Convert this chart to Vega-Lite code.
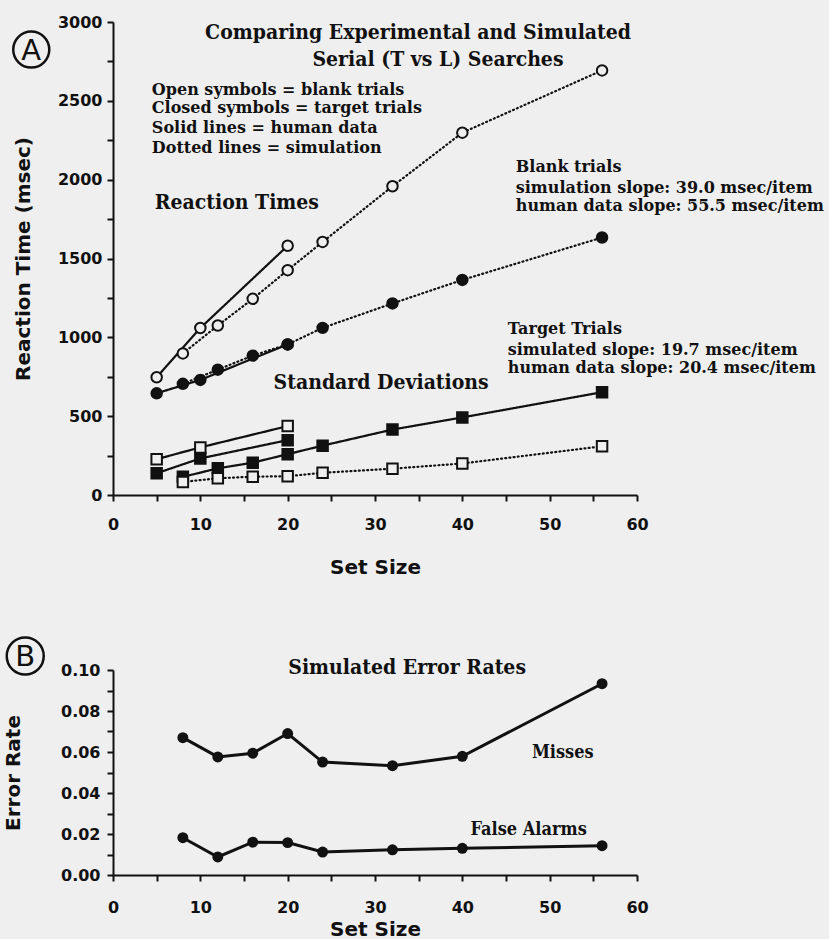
{
  "$schema": "https://vega.github.io/schema/vega-lite/v6.json",
  "background": "#efefef",
  "padding": {"left": 1, "top": 14, "right": 5, "bottom": 0},
  "bounds": "flush",
  "spacing": 175,
  "config": {
    "view": {"stroke": null},
    "axis": {"grid": false, "domainColor": "#111", "domainWidth": 2, "tickColor": "#111", "tickWidth": 2, "tickSize": 6,
      "labelFont": "DejaVu Sans", "labelFontWeight": "bold", "labelFontSize": 16, "labelColor": "#111",
      "titleFont": "DejaVu Sans", "titleFontWeight": "bold", "titleFontSize": 20, "titleColor": "#111",
      "labelOverlap": false, "labelFlush": false},
    "text": {"font": "DejaVu Serif Condensed, DejaVu Serif", "fontWeight": "bold", "color": "#111"}
  },
  "datasets": {
    "rt": [
      {"series": "Blank RT human", "setsize": 5, "value": 747},
      {"series": "Blank RT human", "setsize": 10, "value": 1059},
      {"series": "Blank RT human", "setsize": 20, "value": 1581},
      {"series": "Blank RT sim", "setsize": 8, "value": 898},
      {"series": "Blank RT sim", "setsize": 12, "value": 1075},
      {"series": "Blank RT sim", "setsize": 16, "value": 1244},
      {"series": "Blank RT sim", "setsize": 20, "value": 1426},
      {"series": "Blank RT sim", "setsize": 24, "value": 1605},
      {"series": "Blank RT sim", "setsize": 32, "value": 1958},
      {"series": "Blank RT sim", "setsize": 40, "value": 2298},
      {"series": "Blank RT sim", "setsize": 56, "value": 2693},
      {"series": "Target RT human", "setsize": 5, "value": 645},
      {"series": "Target RT human", "setsize": 10, "value": 730},
      {"series": "Target RT human", "setsize": 20, "value": 955},
      {"series": "Target RT sim", "setsize": 8, "value": 705},
      {"series": "Target RT sim", "setsize": 12, "value": 795},
      {"series": "Target RT sim", "setsize": 16, "value": 884},
      {"series": "Target RT sim", "setsize": 20, "value": 955},
      {"series": "Target RT sim", "setsize": 24, "value": 1060},
      {"series": "Target RT sim", "setsize": 32, "value": 1215},
      {"series": "Target RT sim", "setsize": 40, "value": 1364},
      {"series": "Target RT sim", "setsize": 56, "value": 1633},
      {"series": "Blank SD human", "setsize": 5, "value": 227},
      {"series": "Blank SD human", "setsize": 10, "value": 302},
      {"series": "Blank SD human", "setsize": 20, "value": 437},
      {"series": "Target SD human", "setsize": 5, "value": 138},
      {"series": "Target SD human", "setsize": 10, "value": 232},
      {"series": "Target SD human", "setsize": 20, "value": 348},
      {"series": "Target SD sim", "setsize": 8, "value": 115},
      {"series": "Target SD sim", "setsize": 12, "value": 169},
      {"series": "Target SD sim", "setsize": 16, "value": 205},
      {"series": "Target SD sim", "setsize": 20, "value": 259},
      {"series": "Target SD sim", "setsize": 24, "value": 313},
      {"series": "Target SD sim", "setsize": 32, "value": 415},
      {"series": "Target SD sim", "setsize": 40, "value": 492},
      {"series": "Target SD sim", "setsize": 56, "value": 652},
      {"series": "Blank SD sim", "setsize": 8, "value": 83},
      {"series": "Blank SD sim", "setsize": 12, "value": 106},
      {"series": "Blank SD sim", "setsize": 16, "value": 116},
      {"series": "Blank SD sim", "setsize": 20, "value": 119},
      {"series": "Blank SD sim", "setsize": 24, "value": 141},
      {"series": "Blank SD sim", "setsize": 32, "value": 167},
      {"series": "Blank SD sim", "setsize": 40, "value": 200},
      {"series": "Blank SD sim", "setsize": 56, "value": 309}
    ],
    "err": [
      {"series": "Misses", "setsize": 8, "rate": 0.067},
      {"series": "Misses", "setsize": 12, "rate": 0.0576},
      {"series": "Misses", "setsize": 16, "rate": 0.0594},
      {"series": "Misses", "setsize": 20, "rate": 0.069},
      {"series": "Misses", "setsize": 24, "rate": 0.0551},
      {"series": "Misses", "setsize": 32, "rate": 0.0533},
      {"series": "Misses", "setsize": 40, "rate": 0.0579},
      {"series": "Misses", "setsize": 56, "rate": 0.0933},
      {"series": "False Alarms", "setsize": 8, "rate": 0.0182},
      {"series": "False Alarms", "setsize": 12, "rate": 0.0088},
      {"series": "False Alarms", "setsize": 16, "rate": 0.016},
      {"series": "False Alarms", "setsize": 20, "rate": 0.0158},
      {"series": "False Alarms", "setsize": 24, "rate": 0.0112},
      {"series": "False Alarms", "setsize": 32, "rate": 0.0123},
      {"series": "False Alarms", "setsize": 40, "rate": 0.013},
      {"series": "False Alarms", "setsize": 56, "rate": 0.0143}
    ],
    "titleA": [
      {"text": "Comparing Experimental and Simulated", "x": 34.93, "y": 2930},
      {"text": "Serial (T vs L) Searches", "x": 37.21, "y": 2759}
    ],
    "notesA": [
      {"text": "Open symbols = blank trials", "x": 4.45, "y": 2569},
      {"text": "Closed symbols = target trials", "x": 4.45, "y": 2454},
      {"text": "Solid lines = human data", "x": 4.45, "y": 2328},
      {"text": "Dotted lines = simulation", "x": 4.45, "y": 2201},
      {"text": "Blank trials", "x": 46.12, "y": 2080},
      {"text": "simulation slope: 39.0 msec/item", "x": 46.12, "y": 1947},
      {"text": "human data slope: 55.5 msec/item", "x": 46.12, "y": 1833},
      {"text": "Target Trials", "x": 45.2, "y": 1053},
      {"text": "simulated slope: 19.7 msec/item", "x": 45.2, "y": 920},
      {"text": "human data slope: 20.4 msec/item", "x": 45.2, "y": 805}
    ],
    "headsA": [
      {"text": "Reaction Times", "x": 4.79, "y": 1852},
      {"text": "Standard Deviations", "x": 18.38, "y": 710}
    ],
    "tagA": [{"text": "A", "x": -9.36, "y": 2825}],
    "titleB": [{"text": "Simulated Error Rates", "x": 33.68, "y": 0.101}],
    "notesB": [
      {"text": "Misses", "x": 51.5, "y": 0.0595},
      {"text": "False Alarms", "x": 47.6, "y": 0.022}
    ],
    "tagB": [{"text": "B", "x": -10.05, "y": 0.1068}]
  },
  "vconcat": [
    {
      "width": 524,
      "height": 473,
      "encoding": {
        "x": {"field": "x", "type": "quantitative", "scale": {"domain": [0, 60], "nice": false, "zero": false},
          "axis": {"title": "Set Size", "values": [0, 5, 10, 15, 20, 25, 30, 35, 40, 45, 50, 55, 60], "format": "d",
            "labelExpr": "datum.value % 10 === 0 ? datum.label : ''", "labelPadding": 15, "titlePadding": 25}},
        "y": {"field": "y", "type": "quantitative", "scale": {"domain": [0, 3000], "nice": false, "zero": false},
          "axis": {"title": "Reaction Time (msec)", "values": [0, 250, 500, 750, 1000, 1250, 1500, 1750, 2000, 2250, 2500, 2750, 3000], "format": "d",
            "labelExpr": "datum.value % 500 === 0 ? datum.label : ''", "labelPadding": 5, "titlePadding": 24}}
      },
      "layer": [
        {
          "data": {"name": "rt"},
          "mark": {"type": "line", "color": "#111", "strokeWidth": 2.2, "strokeCap": "round"},
          "encoding": {
            "x": {"field": "setsize", "type": "quantitative"},
            "y": {"field": "value", "type": "quantitative"},
            "detail": {"field": "series"},
            "strokeDash": {"field": "series", "type": "nominal", "legend": null,
              "scale": {"domain": ["Blank RT human", "Blank RT sim", "Target RT human", "Target RT sim", "Blank SD human", "Target SD human", "Target SD sim", "Blank SD sim"],
                "range": [[1, 0], [1, 3.2], [1, 0], [1, 3.2], [1, 0], [1, 0], [1, 0], [1, 3.2]]}}
          }
        },
        {
          "data": {"name": "rt"},
          "mark": {"type": "point", "filled": true, "stroke": "#111", "strokeWidth": 2, "size": 110, "opacity": 1},
          "encoding": {
            "x": {"field": "setsize", "type": "quantitative"},
            "y": {"field": "value", "type": "quantitative"},
            "shape": {"field": "series", "type": "nominal", "legend": null,
              "scale": {"domain": ["Blank RT human", "Blank RT sim", "Target RT human", "Target RT sim", "Blank SD human", "Target SD human", "Target SD sim", "Blank SD sim"],
                "range": ["circle", "circle", "circle", "circle", "square", "square", "square", "square"]}},
            "fill": {"field": "series", "type": "nominal", "legend": null,
              "scale": {"domain": ["Blank RT human", "Blank RT sim", "Target RT human", "Target RT sim", "Blank SD human", "Target SD human", "Target SD sim", "Blank SD sim"],
                "range": ["#efefef", "#efefef", "#111111", "#111111", "#efefef", "#111111", "#111111", "#efefef"]}}
          }
        },
        {
          "data": {"name": "titleA"},
          "mark": {"type": "text", "align": "center", "baseline": "middle", "fontSize": 21},
          "encoding": {"text": {"field": "text"}}
        },
        {
          "data": {"name": "notesA"},
          "mark": {"type": "text", "align": "left", "baseline": "middle", "fontSize": 16, "font": "DejaVu Serif"},
          "encoding": {"text": {"field": "text"}}
        },
        {
          "data": {"name": "headsA"},
          "mark": {"type": "text", "align": "left", "baseline": "middle", "fontSize": 21},
          "encoding": {"text": {"field": "text"}}
        },
        {
          "data": {"name": "tagA"},
          "mark": {"type": "point", "shape": "circle", "filled": false, "stroke": "#111", "strokeWidth": 2.5, "size": 1300, "opacity": 1}
        },
        {
          "data": {"name": "tagA"},
          "mark": {"type": "text", "align": "center", "baseline": "middle", "font": "DejaVu Sans", "fontWeight": "normal", "fontSize": 29, "dy": 1},
          "encoding": {"text": {"field": "text"}}
        }
      ]
    },
    {
      "width": 524,
      "height": 205,
      "encoding": {
        "x": {"field": "x", "type": "quantitative", "scale": {"domain": [0, 60], "nice": false, "zero": false},
          "axis": {"title": "Set Size", "values": [0, 5, 10, 15, 20, 25, 30, 35, 40, 45, 50, 55, 60], "format": "d",
            "labelExpr": "datum.value % 10 === 0 ? datum.label : ''", "labelPadding": 18, "titlePadding": 4}},
        "y": {"field": "y", "type": "quantitative", "scale": {"domain": [0, 0.1], "nice": false, "zero": false},
          "axis": {"title": "Error Rate", "values": [0, 0.01, 0.02, 0.03, 0.04, 0.05, 0.06, 0.07, 0.08, 0.09, 0.1], "format": ".2f",
            "labelExpr": "round(datum.value * 100) % 2 === 0 ? datum.label : ''", "labelPadding": 7, "titlePadding": 37}}
      },
      "layer": [
        {
          "data": {"name": "err"},
          "mark": {"type": "line", "color": "#111", "strokeWidth": 3},
          "encoding": {
            "x": {"field": "setsize", "type": "quantitative"},
            "y": {"field": "rate", "type": "quantitative"},
            "detail": {"field": "series"}
          }
        },
        {
          "data": {"name": "err"},
          "mark": {"type": "point", "shape": "circle", "filled": true, "color": "#111", "size": 120, "opacity": 1},
          "encoding": {
            "x": {"field": "setsize", "type": "quantitative"},
            "y": {"field": "rate", "type": "quantitative"}
          }
        },
        {
          "data": {"name": "titleB"},
          "mark": {"type": "text", "align": "center", "baseline": "middle", "fontSize": 21},
          "encoding": {"text": {"field": "text"}}
        },
        {
          "data": {"name": "notesB"},
          "mark": {"type": "text", "align": "center", "baseline": "middle", "fontSize": 18},
          "encoding": {"text": {"field": "text"}}
        },
        {
          "data": {"name": "tagB"},
          "mark": {"type": "point", "shape": "circle", "filled": false, "stroke": "#111", "strokeWidth": 2.5, "size": 1370, "opacity": 1}
        },
        {
          "data": {"name": "tagB"},
          "mark": {"type": "text", "align": "center", "baseline": "middle", "font": "DejaVu Sans", "fontWeight": "normal", "fontSize": 29, "dy": 1},
          "encoding": {"text": {"field": "text"}}
        }
      ]
    }
  ]
}
